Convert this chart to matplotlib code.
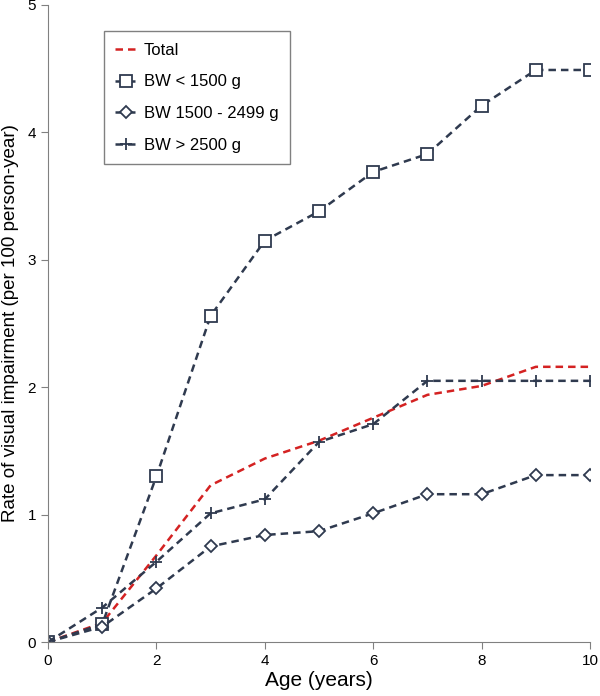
import matplotlib.pyplot as plt

plt.rcParams["font.family"] = ["Liberation Sans", "DejaVu Sans"]

# Data
age = [0, 1, 2, 3, 4, 5, 6, 7, 8, 9, 10]
total = [0, 0.15, 0.68, 1.23, 1.44, 1.58, 1.76, 1.94, 2.01, 2.16, 2.16]
bw_low = [0, 0.14, 1.30, 2.56, 3.15, 3.38, 3.69, 3.83, 4.21, 4.49, 4.49]
bw_mid = [0, 0.12, 0.42, 0.75, 0.84, 0.87, 1.01, 1.16, 1.16, 1.31, 1.31]
bw_high = [0, 0.27, 0.63, 1.01, 1.12, 1.57, 1.71, 2.05, 2.05, 2.05, 2.05]

navy = "#2f3a4f"
red = "#d42222"

fig = plt.figure(figsize=(6, 6.96), dpi=100)
ax = fig.add_axes([48 / 600, 1 - 642 / 696, 542 / 600, 637 / 696])

ax.plot(age, total, color=red, ls=(0, (3, 2)), lw=1.8, label="Total")
ax.plot(age, bw_low, color=navy, ls=(0, (3, 2)), lw=1.8, marker="s", ms=8,
        mfc="white", mec=navy, mew=1.3, label="BW < 1500 g")
ax.plot(age, bw_mid, color=navy, ls=(0, (3, 2)), lw=1.8, marker="D", ms=6.5,
        mfc="white", mec=navy, mew=1.3, label="BW 1500 - 2499 g")
ax.plot(age, bw_high, color=navy, ls=(0, (3, 2)), lw=1.8, marker="+", ms=9,
        mec=navy, mew=1.3, label="BW > 2500 g")

ax.set_xlim(0, 10)
ax.set_ylim(0, 5)
ax.set_xticks([0, 2, 4, 6, 8, 10])
ax.set_yticks([0, 1, 2, 3, 4, 5])
for s in ["top", "right"]:
    ax.spines[s].set_visible(False)
for s in ["left", "bottom"]:
    ax.spines[s].set_color("#808080")
ax.tick_params(colors="#808080", labelcolor="black", labelsize=11, length=5)

ax.set_xlabel("Age (years)", fontsize=15, labelpad=2)
ax.set_ylabel("Rate of visual impairment (per 100 person-year)", fontsize=13.5, labelpad=6)

leg = ax.legend(loc="upper left", bbox_to_anchor=(0.103, 0.959), fontsize=12,
                handlelength=1.3, handletextpad=0.4, labelspacing=1.0,
                fancybox=False, borderpad=0.7, borderaxespad=0)
leg.get_frame().set_edgecolor("#606060")
leg.get_frame().set_linewidth(1.0)

plt.savefig("out.png", dpi=100)
